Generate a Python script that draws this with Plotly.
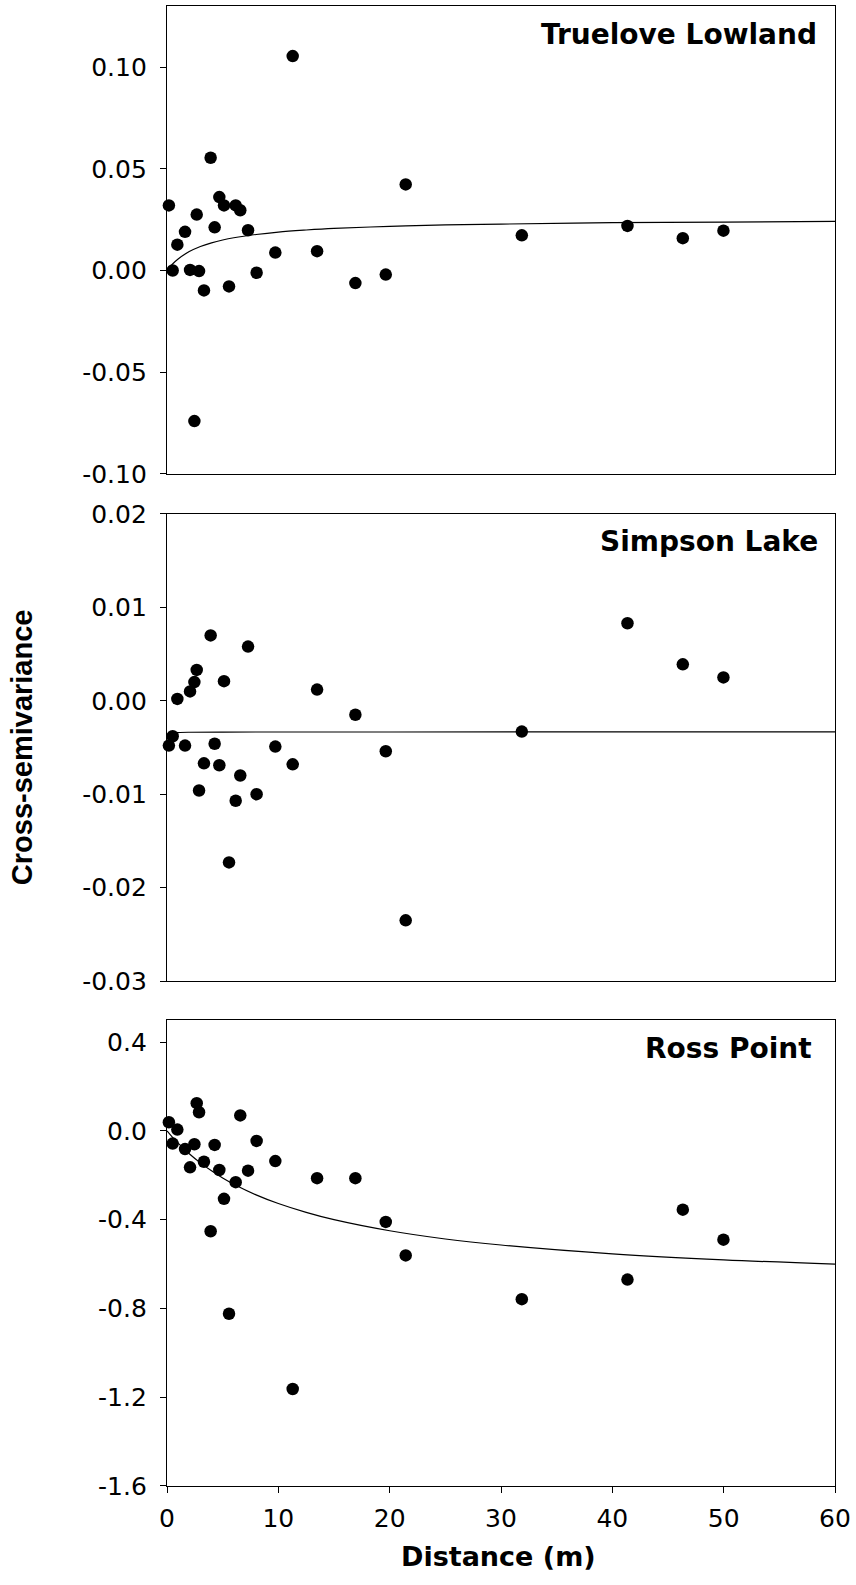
import plotly.graph_objects as go

# Lag distances (m), shared by the three sites
distance = [0.17, 0.51, 0.93, 1.62, 2.07, 2.46, 2.67, 2.88, 3.32, 3.92, 4.28, 4.70,
            5.12, 5.57, 6.17, 6.58, 7.28, 8.05, 9.73, 11.29, 13.48, 16.92, 19.65,
            21.44, 31.87, 41.36, 46.33, 49.98]

# Empirical cross-semivariance per site
truelove = [0.032, 0.000, 0.0127, 0.019, 0.0003, -0.074, 0.0275, -0.0003, -0.0098,
            0.0554, 0.0212, 0.0361, 0.032, -0.0078, 0.032, 0.0296, 0.0198, -0.0011,
            0.0088, 0.1054, 0.0095, -0.0062, -0.0020, 0.0423, 0.0173, 0.0219,
            0.0159, 0.0196]
simpson = [-0.0048, -0.0038, 0.0002, -0.0048, 0.0010, 0.0020, 0.0033, -0.0096,
           -0.0067, 0.0070, -0.0046, -0.0069, 0.0021, -0.0173, -0.0107, -0.0080,
           0.0058, -0.0100, -0.0049, -0.0068, 0.0012, -0.0015, -0.0054, -0.0235,
           -0.0033, 0.0083, 0.0039, 0.0025]
ross = [0.039, -0.057, 0.006, -0.082, -0.164, -0.060, 0.125, 0.084, -0.139, -0.452,
        -0.063, -0.176, -0.306, -0.824, -0.231, 0.070, -0.179, -0.045, -0.136,
        -1.163, -0.213, -0.213, -0.410, -0.561, -0.758, -0.670, -0.355, -0.490]

# Fitted model curves
model_x = [0, 0.5, 1, 2, 3, 4, 5, 6, 8, 10, 12.5, 15, 20, 25, 30, 40, 50, 60]
truelove_fit = [0.0, 0.0032, 0.0057, 0.0093, 0.0118, 0.0136, 0.0150, 0.0161, 0.0177,
                0.0189, 0.0199, 0.0207, 0.0217, 0.0224, 0.0228, 0.0235, 0.0238, 0.0241]
ross_fit = [0.0, -0.029, -0.055, -0.103, -0.144, -0.180, -0.212, -0.240, -0.288,
            -0.327, -0.367, -0.400, -0.450, -0.487, -0.514, -0.554, -0.581, -0.600]
simpson_fit_x = [0, 0.5, 1, 2, 5, 10, 20, 40, 60]
simpson_fit = [-0.0036, -0.00345, -0.0034, -0.00337, -0.00335, -0.00334, -0.00334,
               -0.00333, -0.00333]

sites = ["Truelove Lowland", "Simpson Lake", "Ross Point"]

# Tick labels
x_ticks = [0, 10, 20, 30, 40, 50, 60]
y1_ticks = [-0.10, -0.05, 0.00, 0.05, 0.10]
y1_text = ["-0.10", "-0.05", "0.00", "0.05", "0.10"]
y2_ticks = [-0.03, -0.02, -0.01, 0.00, 0.01, 0.02]
y2_text = ["-0.03", "-0.02", "-0.01", "0.00", "0.01", "0.02"]
y3_ticks = [-1.6, -1.2, -0.8, -0.4, 0.0, 0.4]
y3_text = ["-1.6", "-1.2", "-0.8", "-0.4", "0.0", "0.4"]

WIDE = "DejaVu Sans, Verdana, sans-serif"
NARROW = "Liberation Sans, Arial, sans-serif"
TICK_FONT = dict(family=WIDE, size=25, color="black")

fig = go.Figure()

panels = [
    (truelove, model_x, truelove_fit, "x", "y"),
    (simpson, simpson_fit_x, simpson_fit, "x2", "y2"),
    (ross, model_x, ross_fit, "x3", "y3"),
]
for vals, fx, fy, xa, ya in panels:
    fig.add_trace(go.Scatter(x=fx, y=fy, mode="lines", xaxis=xa, yaxis=ya,
                             line=dict(color="black", width=1.2, shape="spline"),
                             showlegend=False, hoverinfo="skip"))
    fig.add_trace(go.Scatter(x=distance, y=vals, mode="markers", xaxis=xa, yaxis=ya,
                             marker=dict(color="black", size=12.5, line=dict(width=0)),
                             cliponaxis=False, showlegend=False))

axis_common = dict(showline=True, linecolor="black", linewidth=1.3, mirror=True,
                   showgrid=False, zeroline=False, automargin=False)

x_plain = dict(axis_common, range=[0, 60], showticklabels=False, ticks="")
x_bottom = dict(axis_common, range=[0, 60], tickvals=x_ticks, ticks="outside",
                ticklen=6, tickwidth=1.3, tickcolor="black", tickfont=TICK_FONT,
                ticklabelstandoff=4)


def y_axis(rng, vals, text, dom):
    return dict(axis_common, range=rng, domain=dom, tickvals=vals, ticktext=text,
                ticks="outside", ticklen=6, tickwidth=1.3, tickcolor="black",
                tickfont=TICK_FONT, ticklabelstandoff=8)


fig.update_layout(
    width=856, height=1585,
    margin=dict(l=167, r=21, t=6, b=99, autoexpand=False),
    paper_bgcolor="white", plot_bgcolor="white",
    showlegend=False,
    xaxis=dict(x_plain, anchor="y"),
    xaxis2=dict(x_plain, anchor="y2"),
    xaxis3=dict(x_bottom, anchor="y3"),
    yaxis=y_axis([-0.10, 0.13], y1_ticks, y1_text, [0.6838, 1.0]),
    yaxis2=y_axis([-0.03, 0.02], y2_ticks, y2_text, [0.3412, 0.6568]),
    yaxis3=y_axis([-1.6, 0.5], y3_ticks, y3_text, [0.0, 0.3149]),
)

# Site labels in the upper right of each panel
label_pos = [("x domain", "y domain", 0.976, 0.940),
             ("x2 domain", "y2 domain", 0.978, 0.940),
             ("x3 domain", "y3 domain", 0.969, 0.938)]
for name, (xr, yr, xx, yy) in zip(sites, label_pos):
    fig.add_annotation(text=f"<b>{name}</b>", xref=xr, yref=yr, x=xx, y=yy,
                       xanchor="right", yanchor="middle", showarrow=False,
                       font=dict(family=WIDE, size=28, color="black"))

# Axis titles
fig.add_annotation(text="<b>Distance (m)</b>", xref="paper", yref="paper",
                   x=0.497, y=-0.0473, xanchor="center", yanchor="middle",
                   showarrow=False, font=dict(family=WIDE, size=27, color="black"))
fig.add_annotation(text="<b>Cross-semivariance</b>", xref="paper", yref="paper",
                   x=-0.216, y=0.499, xanchor="center", yanchor="middle",
                   textangle=-90, showarrow=False,
                   font=dict(family=NARROW, size=29, color="black"))

fig.write_html("out.html")
